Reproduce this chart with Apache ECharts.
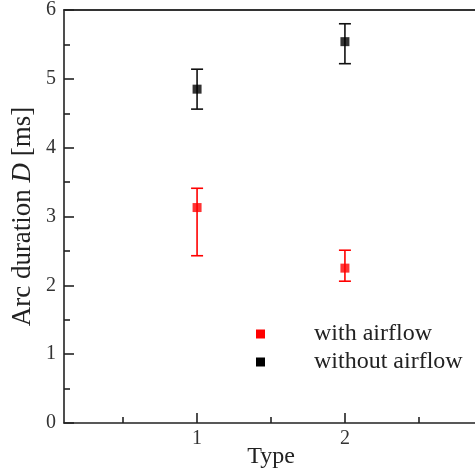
<!DOCTYPE html>
<html>
<head>
<meta charset="utf-8">
<script src="https://cdn.jsdelivr.net/npm/echarts@6/dist/echarts.min.js"></script>
<style>
html,body{margin:0;padding:0;background:#fff;}
#main{width:475px;height:473px;}
</style>
</head>
<body>
<div id="main"></div>
<script>
'use strict';

// data
var types = [1, 2];
var withAirflow = [3.13, 2.25];
var withAirflowLow = [2.43, 2.06];
var withAirflowHigh = [3.41, 2.51];
var withoutAirflow = [4.85, 5.54];
var withoutAirflowLow = [4.56, 5.22];
var withoutAirflowHigh = [5.14, 5.80];
var xTicks = [1, 2];
var xMinorTicks = [0.5, 1.5, 2.5];

var FONT = 'Liberation Serif';

function points(vals) {
    return types.map(function (t, i) { return [t, vals[i]]; });
}
function bars(lo, hi) {
    return types.map(function (t, i) { return [t, lo[i], hi[i]]; });
}

// error bar drawer
function errorBar(color) {
    return function (params, api) {
        var x = api.value(0);
        var lo = api.coord([x, api.value(1)]);
        var hi = api.coord([x, api.value(2)]);
        var w = 6;
        var st = {stroke: color, lineWidth: 1.6};
        return {
            type: 'group',
            children: [
                {type: 'line', shape: {x1: lo[0], y1: lo[1], x2: hi[0], y2: hi[1]}, style: st},
                {type: 'line', shape: {x1: lo[0] - w, y1: lo[1], x2: lo[0] + w, y2: lo[1]}, style: st},
                {type: 'line', shape: {x1: hi[0] - w, y1: hi[1], x2: hi[0] + w, y2: hi[1]}, style: st}
            ]
        };
    };
}

var chart = echarts.init(document.getElementById('main'));

var option = {
    animation: false,
    backgroundColor: '#fff',
    textStyle: {fontFamily: FONT},
    grid: {left: 64, right: -3, top: 10, bottom: 50, containLabel: false, outerBoundsMode: 'none'},
    legend: {
        orient: 'vertical',
        left: 251,
        top: 317,
        itemWidth: 9,
        itemHeight: 9,
        itemGap: 4,
        icon: 'rect',
        textStyle: {fontFamily: FONT, fontSize: 24, color: '#222', padding: [0, 0, 0, 44]},
        data: ['with airflow', 'without airflow']
    },
    xAxis: [{
        type: 'value',
        min: 0.1,
        max: 2.9,
        name: 'Type',
        nameLocation: 'middle',
        nameGap: 22,
        nameMoveOverlap: false,
        nameTextStyle: {fontFamily: FONT, fontSize: 24, color: '#222'},
        axisLine: {show: true, lineStyle: {color: '#222', width: 1.6}},
        axisTick: {show: true, inside: true, length: 10, customValues: xTicks, lineStyle: {color: '#222', width: 1.6}},
        axisLabel: {customValues: xTicks, fontFamily: FONT, fontSize: 20, color: '#333', margin: 6},
        splitLine: {show: false}
    }, {
        type: 'value',
        min: 0.1,
        max: 2.9,
        position: 'bottom',
        axisLine: {show: false},
        axisTick: {show: true, inside: true, length: 6, customValues: xMinorTicks, lineStyle: {color: '#222', width: 1.6}},
        axisLabel: {show: false},
        splitLine: {show: false}
    }, {
        type: 'value',
        min: 0.1,
        max: 2.9,
        position: 'top',
        axisLine: {show: true, lineStyle: {color: '#333', width: 1.8}},
        axisTick: {show: false},
        axisLabel: {show: false},
        splitLine: {show: false}
    }],
    yAxis: {
        type: 'value',
        min: 0,
        max: 6,
        interval: 1,
        name: 'Arc duration {i|D} [ms]',
        nameLocation: 'middle',
        nameGap: 28,
        nameMoveOverlap: false,
        nameTextStyle: {
            fontFamily: FONT, fontSize: 27, color: '#222',
            rich: {i: {fontFamily: FONT, fontSize: 27, fontStyle: 'italic', color: '#222'}}
        },
        axisLine: {show: true, lineStyle: {color: '#222', width: 1.6}},
        axisTick: {show: true, inside: true, length: 10, lineStyle: {color: '#222', width: 1.6}},
        minorTick: {show: true, splitNumber: 2, length: 6, lineStyle: {color: '#222', width: 1.6}},
        axisLabel: {fontFamily: FONT, fontSize: 20, color: '#333', margin: 8},
        splitLine: {show: false}
    },
    series: [{
        type: 'custom',
        name: 'with airflow',
        xAxisIndex: 0,
        renderItem: errorBar('#ff0000'),
        data: bars(withAirflowLow, withAirflowHigh),
        itemStyle: {color: '#ff0000'},
        z: 2,
        silent: true
    }, {
        type: 'custom',
        name: 'without airflow',
        xAxisIndex: 0,
        renderItem: errorBar('#111'),
        data: bars(withoutAirflowLow, withoutAirflowHigh),
        itemStyle: {color: '#000'},
        z: 2,
        silent: true
    }, {
        type: 'scatter',
        name: 'with airflow',
        xAxisIndex: 0,
        symbol: 'rect',
        symbolSize: 9,
        itemStyle: {color: '#ff0000'},
        data: points(withAirflow),
        z: 3
    }, {
        type: 'scatter',
        name: 'without airflow',
        xAxisIndex: 0,
        symbol: 'rect',
        symbolSize: 9,
        itemStyle: {color: '#000'},
        data: points(withoutAirflow),
        z: 3
    }]
};

chart.setOption(option);
</script>
</body>
</html>
